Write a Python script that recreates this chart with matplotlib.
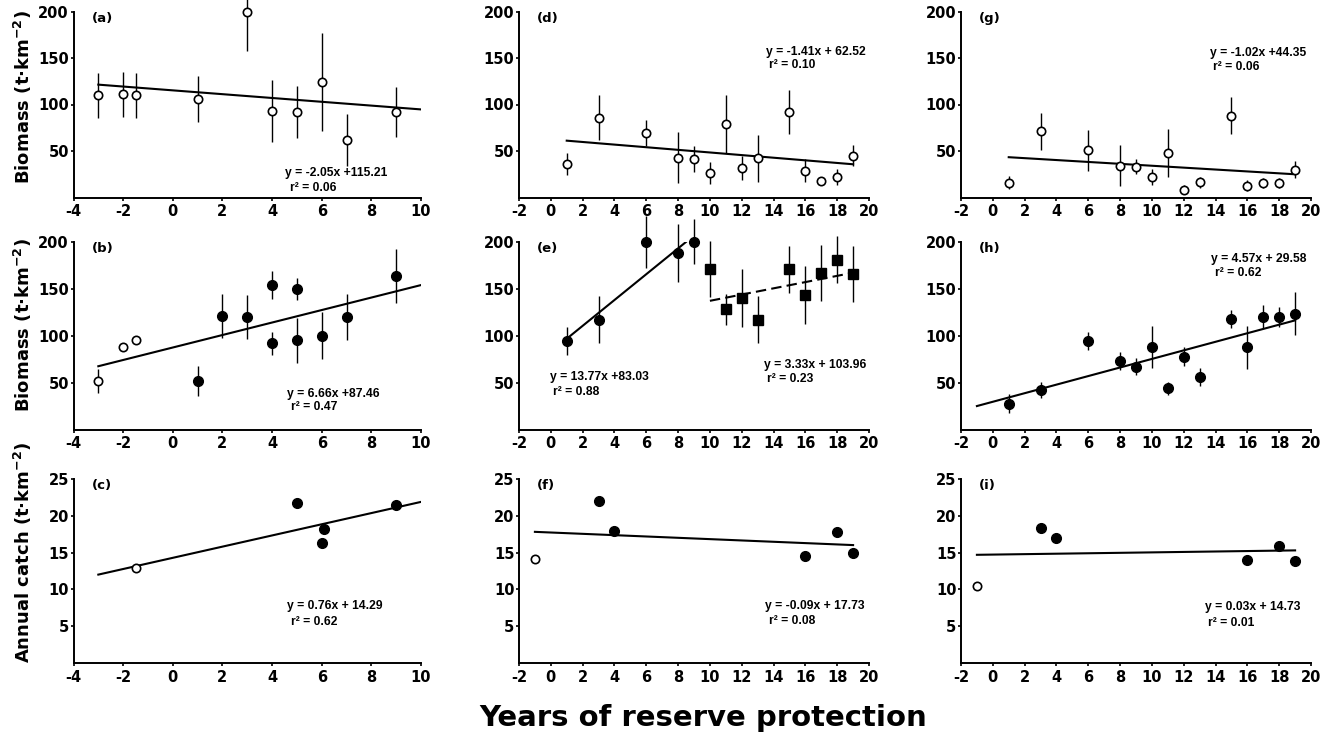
import matplotlib
matplotlib.use("Agg")
import matplotlib.pyplot as plt
import numpy as np

plt.rcParams['font.family'] = ['DejaVu Sans']
plt.rcParams['mathtext.fontset'] = 'dejavusans'
plt.rcParams['mathtext.default'] = 'bf'
plt.rcParams['axes.unicode_minus'] = False

# ---------------- data ----------------
# (a) biomass, open circles
a_x = [-3, -2, -1.5, 1, 3, 4, 5, 6, 7, 9]
a_y = [110, 111, 110, 106, 199, 93, 92, 124, 62, 92]
a_err = [24, 24, 24, 25, 42, 33, 28, 53, 28, 27]
a_fit = (-2.05, 115.21); a_fit_x = [-3, 10]

# (b) biomass, open (before) and filled (after)
b_open_x = [-3, -2, -1.5]
b_open_y = [52, 88, 95]
b_open_err = [13, 0, 0]
b_x = [1, 2, 3, 4, 4, 5, 5, 6, 7, 9]
b_y = [52, 121, 120, 154, 92, 150, 95, 100, 120, 164]
b_err = [16, 23, 23, 15, 12, 12, 24, 25, 24, 29]
b_fit = (6.66, 87.46); b_fit_x = [-3, 10]

# (c) annual catch
c_open_x = [-1.5]
c_open_y = [12.9]
c_x = [5, 6, 6.1, 9]
c_y = [21.8, 16.3, 18.2, 21.5]
c_fit = (0.76, 14.29); c_fit_x = [-3, 10]

# (d) biomass, open circles
d_x = [1, 3, 6, 8, 9, 10, 11, 12, 13, 15, 16, 17, 18, 19]
d_y = [36, 86, 69, 43, 41, 26, 79, 32, 42, 92, 29, 17.5, 22, 45]
d_err = [12, 24, 14, 27, 14, 12, 31, 13, 25, 24, 12, 0, 8.5, 11.5]
d_fit = (-1.41, 62.52); d_fit_x = [1, 19]

# (e) biomass, filled circles (early) and squares (late)
e1_x = [1, 3, 6, 8, 9]
e1_y = [94, 117, 200, 188, 200]
e1_err = [15, 25, 28, 31, 24]
e1_fit = (13.77, 83.03); e1_fit_x = [1, 8.49]
e2_x = [10, 11, 12, 13, 15, 16, 17, 18, 19]
e2_y = [171, 128, 140, 117, 171, 143, 167, 181, 166]
e2_err = [30, 17, 31, 25, 25, 31, 30, 25, 30]
e2_fit = (3.33, 103.96); e2_fit_x = [10, 19]

# (f) annual catch
f_open_x = [-1]
f_open_y = [14.1]
f_x = [3, 4, 16, 18, 19]
f_y = [22.0, 17.9, 14.5, 17.8, 14.9]
f_fit = (-0.09, 17.73); f_fit_x = [-1, 19]

# (g) biomass, open circles
g_x = [1, 3, 6, 8, 9, 10, 11, 12, 13, 15, 16, 17, 18, 19]
g_y = [16, 71, 51, 34, 33, 22, 48, 8.5, 16.5, 88, 12.5, 15.5, 15.5, 30]
g_err = [7, 20, 22, 22, 8, 8.5, 26, 5, 6, 20, 6, 5, 5, 9.5]
g_fit = (-1.02, 44.35); g_fit_x = [1, 19]

# (h) biomass, filled circles
h_x = [1, 3, 6, 8, 9, 10, 11, 12, 13, 15, 16, 17, 18, 19]
h_y = [27.5, 42, 94.5, 73, 67, 88, 44, 77.5, 56, 118, 87.5, 120.5, 120, 123.5]
h_err = [10, 8.5, 10, 10, 9, 22.5, 7, 10, 10, 9.5, 23, 12, 11, 23]
h_fit = (4.57, 29.58); h_fit_x = [-1, 19]

# (i) annual catch
i_open_x = [-1]
i_open_y = [10.4]
i_x = [3, 4, 16, 18, 19]
i_y = [18.3, 17.0, 14.0, 15.95, 13.9]
i_fit = (0.03, 14.73); i_fit_x = [-1, 19]

eq_text = {
    'a': ("y = -2.05x +115.21", "r² = 0.06"),
    'b': ("y = 6.66x +87.46", "r² = 0.47"),
    'c': ("y = 0.76x + 14.29", "r² = 0.62"),
    'd': ("y = -1.41x + 62.52", "r² = 0.10"),
    'e1': ("y = 13.77x +83.03", "r² = 0.88"),
    'e2': ("y = 3.33x + 103.96", "r² = 0.23"),
    'f': ("y = -0.09x + 17.73", "r² = 0.08"),
    'g': ("y = -1.02x +44.35", "r² = 0.06"),
    'h': ("y = 4.57x + 29.58", "r² = 0.62"),
    'i': ("y = 0.03x + 14.73", "r² = 0.01"),
}
# positions (axes fraction): eq line left x, y ; r2 line left x, y
eq_pos = {
    'a': (0.608, 0.131, 0.622, 0.051),
    'b': (0.615, 0.191, 0.627, 0.120),
    'c': (0.614, 0.309, 0.627, 0.224),
    'd': (0.706, 0.782, 0.714, 0.710),
    'e1': (0.089, 0.282, 0.098, 0.200),
    'e2': (0.700, 0.345, 0.709, 0.267),
    'f': (0.702, 0.310, 0.714, 0.228),
    'g': (0.710, 0.776, 0.720, 0.704),
    'h': (0.713, 0.909, 0.725, 0.835),
    'i': (0.696, 0.302, 0.706, 0.218),
}

biomass_label = r"Biomass (t·km$^{-2}$)"
catch_label = r"Annual catch (t·km$^{-2}$)"
x_label = "Years of reserve protection"

# ---------------- layout ----------------
W, H = 1331, 738
fig = plt.figure(figsize=(W / 100, H / 100), dpi=100)

cols = [(73.5, 347.5), (519, 350), (961, 350)]
rows = [(11.5, 197.5), (242, 429.5), (479, 663)]


def make_ax(c, r):
    left, width = cols[c]
    top, bottom = rows[r]
    ax = fig.add_axes([left / W, 1 - bottom / H, width / W, (bottom - top) / H])
    for s in ['top', 'right']:
        ax.spines[s].set_visible(False)
    for s in ['left', 'bottom']:
        ax.spines[s].set_linewidth(1.4)
    ax.tick_params(direction='out', length=2.5, width=1.2, labelsize=10.5)
    ax.tick_params(axis='x', pad=2.5)
    ax.tick_params(axis='y', pad=0.8)
    if c == 0:
        ax.set_xlim(-4, 10)
        ax.set_xticks(np.arange(-4, 11, 2))
    else:
        ax.set_xlim(-2, 20)
        ax.set_xticks(np.arange(-2, 21, 2))
    if r < 2:
        ax.set_ylim(0, 200)
        ax.set_yticks([50, 100, 150, 200])
    else:
        ax.set_ylim(0, 25)
        ax.set_yticks([5, 10, 15, 20, 25])
    for lab in ax.get_xticklabels() + ax.get_yticklabels():
        lab.set_fontweight('bold')
    return ax


def fit_line(ax, fit, xs, ls='-'):
    xs = np.array(xs, dtype=float)
    ys = fit[0] * xs + fit[1]
    line, = ax.plot(xs, ys, color='black', lw=1.5, ls=ls, zorder=3)
    if ls == '--':
        line.set_dashes((5, 2.5))


def errs(ax, x, y, e):
    ax.errorbar(x, y, yerr=e, fmt='none', ecolor='black', elinewidth=1.0,
                capsize=0, zorder=2, clip_on=False)


def open_pts(ax, x, y, ms=6):
    ax.plot(x, y, 'o', ms=ms, mfc='white', mec='black', mew=1.2, ls='none',
            zorder=4, clip_on=False)


def filled_pts(ax, x, y, marker='o', ms=7):
    ax.plot(x, y, marker, ms=ms, mfc='black', mec='black', ls='none',
            zorder=4, clip_on=False)


def panel_label(ax, s):
    ax.text(0.052, 0.965, s, transform=ax.transAxes, ha='left', va='center',
            fontsize=9.5, fontweight='bold')


def equation(ax, key):
    ex, ey, rx, ry = eq_pos[key]
    l1, l2 = eq_text[key]
    ax.text(ex, ey, l1, transform=ax.transAxes, ha='left', va='center',
            fontsize=8.7, fontweight='bold', family='Liberation Sans')
    ax.text(rx, ry, l2, transform=ax.transAxes, ha='left', va='center',
            fontsize=8.7, fontweight='bold', family='Liberation Sans')


# (a)
ax = make_ax(0, 0)
fit_line(ax, a_fit, a_fit_x)
errs(ax, a_x, a_y, a_err)
open_pts(ax, a_x, a_y)
panel_label(ax, '(a)'); equation(ax, 'a')

# (b)
ax = make_ax(0, 1)
fit_line(ax, b_fit, b_fit_x)
errs(ax, b_open_x, b_open_y, b_open_err)
errs(ax, b_x, b_y, b_err)
open_pts(ax, b_open_x, b_open_y)
filled_pts(ax, b_x, b_y)
panel_label(ax, '(b)'); equation(ax, 'b')

# (c)
ax = make_ax(0, 2)
fit_line(ax, c_fit, c_fit_x)
open_pts(ax, c_open_x, c_open_y)
filled_pts(ax, c_x, c_y)
panel_label(ax, '(c)'); equation(ax, 'c')

# (d)
ax = make_ax(1, 0)
fit_line(ax, d_fit, d_fit_x)
errs(ax, d_x, d_y, d_err)
open_pts(ax, d_x, d_y)
panel_label(ax, '(d)'); equation(ax, 'd')

# (e)
ax = make_ax(1, 1)
fit_line(ax, e1_fit, e1_fit_x)
fit_line(ax, e2_fit, e2_fit_x, ls='--')
errs(ax, e1_x, e1_y, e1_err)
errs(ax, e2_x, e2_y, e2_err)
filled_pts(ax, e1_x, e1_y)
filled_pts(ax, e2_x, e2_y, marker='s', ms=7)
panel_label(ax, '(e)'); equation(ax, 'e1'); equation(ax, 'e2')

# (f)
ax = make_ax(1, 2)
fit_line(ax, f_fit, f_fit_x)
open_pts(ax, f_open_x, f_open_y)
filled_pts(ax, f_x, f_y)
panel_label(ax, '(f)'); equation(ax, 'f')

# (g)
ax = make_ax(2, 0)
fit_line(ax, g_fit, g_fit_x)
errs(ax, g_x, g_y, g_err)
open_pts(ax, g_x, g_y)
panel_label(ax, '(g)'); equation(ax, 'g')

# (h)
ax = make_ax(2, 1)
fit_line(ax, h_fit, h_fit_x)
errs(ax, h_x, h_y, h_err)
filled_pts(ax, h_x, h_y)
panel_label(ax, '(h)'); equation(ax, 'h')

# (i)
ax = make_ax(2, 2)
fit_line(ax, i_fit, i_fit_x)
open_pts(ax, i_open_x, i_open_y)
filled_pts(ax, i_x, i_y)
panel_label(ax, '(i)'); equation(ax, 'i')

# axis titles
fig.text(23 / W, 1 - 97 / H, biomass_label, rotation=90, ha='center', va='center',
         fontsize=13, fontweight='bold')
fig.text(23 / W, 1 - 325 / H, biomass_label, rotation=90, ha='center', va='center',
         fontsize=13, fontweight='bold')
fig.text(23 / W, 1 - 552 / H, catch_label, rotation=90, ha='center', va='center',
         fontsize=13, fontweight='bold')
fig.text(703 / W, 1 - 718 / H, x_label, ha='center', va='center',
         fontsize=21, fontweight='bold')

fig.savefig('out.png', dpi=100)
